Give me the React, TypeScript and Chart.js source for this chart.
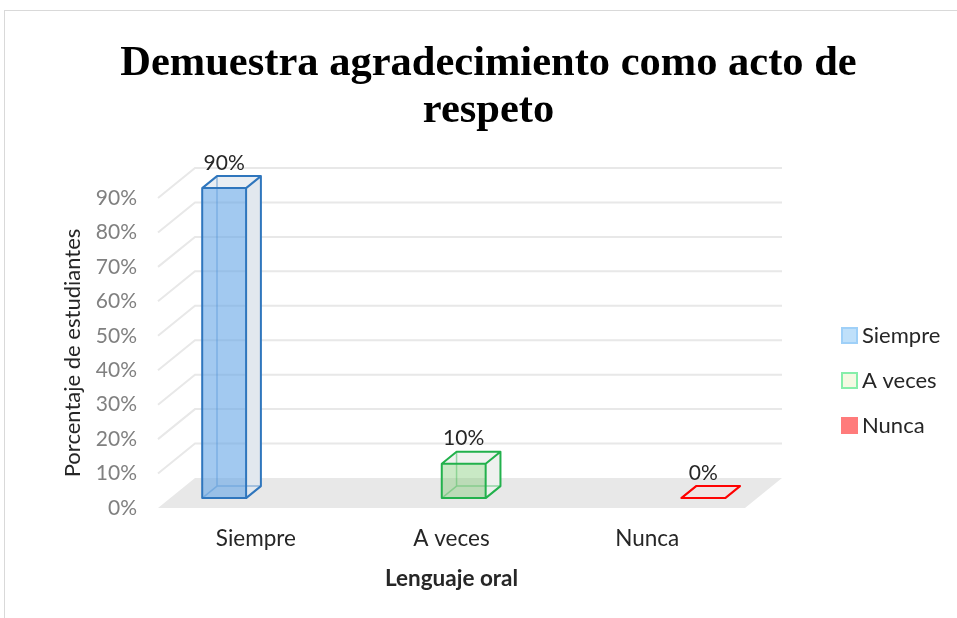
import React, { useEffect, useRef } from 'react';
import { Chart, registerables } from 'chart.js';

Chart.register(...registerables);

// ---- data ----
const categories = ['Siempre', 'A veces', 'Nunca'];
const seriesLabels = ['Siempre', 'A veces', 'Nunca'];
const siempreValues: (number | null)[] = [90, null, null];
const aVecesValues: (number | null)[] = [null, 10, null];
const nuncaValues: (number | null)[] = [null, null, 0];
const yTickValues = [0, 10, 20, 30, 40, 50, 60, 70, 80, 90];
const titleLines = ['Demuestra agradecimiento como acto de', 'respeto'];
const yAxisTitle = 'Porcentaje de estudiantes';
const xAxisTitle = 'Lenguaje oral';

// ---- styles ----
const FONT = 'Lato, "Noto Sans", sans-serif';
const TITLE_FONT = 'bold 42.5px "Liberation Serif", "Times New Roman", serif';
const DX = 37; // depth projection (x)
const DY = 30; // depth projection (y)
const D1 = 0.33; // bar front depth fraction
const D2 = 0.73; // bar back depth fraction

const seriesStyles = [
  {
    edge: '#2f76bd', edgeBack: 'rgba(47,118,189,0.45)', front: 'rgba(100,165,230,0.6)',
    side: '#e2e8ee', top: '#e9eef3', legendFill: '#bfe0fa', legendBorder: '#9fd0f8',
  },
  {
    edge: '#22b14c', edgeBack: 'rgba(34,177,76,0.45)', front: 'rgba(120,200,110,0.4)',
    side: '#eef1ee', top: '#f0f2f0', legendFill: '#f5f9e3', legendBorder: '#86eeaa',
  },
  {
    edge: '#ff0000', edgeBack: 'rgba(255,0,0,0.45)', front: 'rgba(255,120,120,0.4)',
    side: '#f2e6e6', top: '#f0e2e2', legendFill: '#ff7b7b', legendBorder: '#ff7b7b',
  },
];

type Pt = [number, number];

function poly(ctx: CanvasRenderingContext2D, pts: Pt[], fill: string) {
  ctx.beginPath();
  ctx.moveTo(pts[0][0], pts[0][1]);
  for (let i = 1; i < pts.length; i++) ctx.lineTo(pts[i][0], pts[i][1]);
  ctx.closePath();
  ctx.fillStyle = fill;
  ctx.fill();
}

function seg(ctx: CanvasRenderingContext2D, a: Pt, b: Pt) {
  ctx.moveTo(a[0], a[1]);
  ctx.lineTo(b[0], b[1]);
}

const threeDPlugin = {
  id: 'threeD',
  beforeDraw(chart: any) {
    // title
    const { ctx } = chart;
    ctx.save();
    ctx.font = TITLE_FONT;
    ctx.fillStyle = '#000000';
    ctx.textAlign = 'center';
    ctx.textBaseline = 'alphabetic';
    const cx = chart.width / 2 + 10;
    titleLines.forEach((line, i) => {
      ctx.fillText(line, cx, 75 + i * 47);
    });
    ctx.restore();
  },
  beforeDatasetsDraw(chart: any) {
    const { ctx, chartArea } = chart;
    const yScale = chart.scales.y;
    const { left, right } = chartArea;
    ctx.save();
    // floor
    const y0 = yScale.getPixelForValue(0);
    poly(ctx, [[left, y0], [right, y0], [right + DX, y0 - DY], [left + DX, y0 - DY]], '#e8e8e8');
    // walls gridlines
    ctx.strokeStyle = '#e8e8e8';
    ctx.lineWidth = 2;
    yTickValues.forEach((v) => {
      if (v === 0) return;
      const yf = yScale.getPixelForValue(v);
      ctx.beginPath();
      ctx.moveTo(left, yf);
      ctx.lineTo(left + DX, yf - DY);
      ctx.lineTo(right + DX, yf - DY);
      ctx.stroke();
    });
    ctx.restore();
  },
  afterDatasetsDraw(chart: any) {
    const { ctx } = chart;
    ctx.save();
    chart.data.datasets.forEach((ds: any, di: number) => {
      const meta = chart.getDatasetMeta(di);
      const st = seriesStyles[di];
      meta.data.forEach((el: any, i: number) => {
        const v = ds.data[i];
        if (v === null || v === undefined) return;
        const { x, y, base, width } = el.getProps(['x', 'y', 'base', 'width'], true);
        const l = x - width / 2;
        const r = x + width / 2;
        const f = (px: number, py: number, d: number): Pt => [px + DX * d, py - DY * d];
        const A = f(l, y, D1), B = f(r, y, D1), C = f(r, base, D1), Dp = f(l, base, D1);
        const A2 = f(l, y, D2), B2 = f(r, y, D2), C2 = f(r, base, D2), E2 = f(l, base, D2);
        // faces
        poly(ctx, [B, B2, C2, C], st.side);
        poly(ctx, [A, A2, B2, B], st.top);
        // hidden edges
        ctx.lineWidth = 1.5;
        ctx.strokeStyle = st.edgeBack;
        ctx.beginPath();
        seg(ctx, A2, E2);
        seg(ctx, E2, C2);
        seg(ctx, E2, Dp);
        ctx.stroke();
        // front face
        poly(ctx, [A, B, C, Dp], st.front);
        // visible edges
        ctx.lineWidth = 2;
        ctx.strokeStyle = st.edge;
        ctx.lineJoin = 'round';
        ctx.beginPath();
        ctx.moveTo(A[0], A[1]);
        ctx.lineTo(B[0], B[1]);
        ctx.lineTo(C[0], C[1]);
        ctx.lineTo(Dp[0], Dp[1]);
        ctx.closePath();
        ctx.moveTo(A[0], A[1]);
        ctx.lineTo(A2[0], A2[1]);
        ctx.lineTo(B2[0], B2[1]);
        ctx.lineTo(B[0], B[1]);
        ctx.moveTo(B2[0], B2[1]);
        ctx.lineTo(C2[0], C2[1]);
        ctx.lineTo(C[0], C[1]);
        ctx.stroke();
        // data label
        ctx.fillStyle = '#262626';
        ctx.font = '21px ' + FONT;
        ctx.textAlign = 'center';
        ctx.textBaseline = 'middle';
        ctx.fillText(v + '%', (A[0] + B[0]) / 2, A[1] - 25);
      });
    });
    ctx.restore();
  },
  afterDraw(chart: any) {
    // legend
    const { ctx, chartArea } = chart;
    const bx = chartArea.right + 97;
    const cy = (chartArea.top + chartArea.bottom) / 2 + 27;
    ctx.save();
    ctx.font = '22px ' + FONT;
    ctx.textAlign = 'left';
    ctx.textBaseline = 'middle';
    chart.data.datasets.forEach((ds: any, i: number) => {
      const st = seriesStyles[i];
      const yy = cy + (i - 1) * 45;
      ctx.fillStyle = st.legendFill;
      ctx.fillRect(bx, yy - 7, 15, 15);
      ctx.strokeStyle = st.legendBorder;
      ctx.lineWidth = 2;
      ctx.strokeRect(bx, yy - 7, 15, 15);
      ctx.fillStyle = '#262626';
      ctx.fillText(ds.label, bx + 20, yy + 1);
    });
    ctx.restore();
  },
};

export default function App() {
  const canvasRef = useRef<HTMLCanvasElement | null>(null);

  useEffect(() => {
    const canvas = canvasRef.current;
    if (!canvas) return;
    const valueSets = [siempreValues, aVecesValues, nuncaValues];
    const chart = new Chart(canvas, {
      type: 'bar',
      data: {
        labels: categories,
        datasets: seriesLabels.map((label, i) => ({
          label,
          data: valueSets[i],
          backgroundColor: 'rgba(0,0,0,0)',
          borderWidth: 0,
          categoryPercentage: 0.673,
          barPercentage: 1,
        })),
      },
      options: {
        responsive: false,
        animation: false,
        devicePixelRatio: 1,
        layout: { padding: { left: 8, right: 212, top: 198, bottom: 0 } },
        plugins: {
          legend: { display: false },
          tooltip: { enabled: false },
          title: { display: false },
        },
        scales: {
          x: {
            type: 'category',
            offset: true,
            grid: { display: false, drawTicks: false },
            border: { display: false },
            ticks: { color: '#262626', font: { family: FONT, size: 22.5 }, padding: 17 },
            title: {
              display: true,
              text: xAxisTitle,
              color: '#262626',
              font: { family: FONT, size: 22.5, weight: 'bold' },
              padding: { top: 0, bottom: 26 },
            },
            afterFit: (scale: any) => { scale.height = 110; },
          },
          y: {
            type: 'linear',
            min: 0,
            max: 90,
            afterBuildTicks: (scale: any) => { scale.ticks = yTickValues.map((v) => ({ value: v })); },
            grid: { display: false, drawTicks: false },
            border: { display: false },
            ticks: {
              color: '#808080',
              font: { family: FONT, size: 21 },
              padding: 21,
              callback: (v: any) => v + '%',
            },
            title: {
              display: true,
              text: yAxisTitle,
              color: '#262626',
              font: { family: FONT, size: 22 },
              padding: { top: 52, bottom: 0 },
            },
            afterFit: (scale: any) => { scale.width = 150; },
          },
        },
      },
      plugins: [threeDPlugin],
    } as any);
    return () => chart.destroy();
  }, []);

  return (
    <div style={{ position: 'fixed', left: 0, top: 0, width: 957, height: 618, background: '#ffffff', overflow: 'hidden' }}>
      <div style={{ position: 'absolute', left: 4, top: 10, width: 1000, height: 700, border: '1px solid #d9d9d9', boxSizing: 'border-box' }} />
      <canvas ref={canvasRef} width={957} height={618} style={{ position: 'absolute', left: 0, top: 0 }} />
    </div>
  );
}
